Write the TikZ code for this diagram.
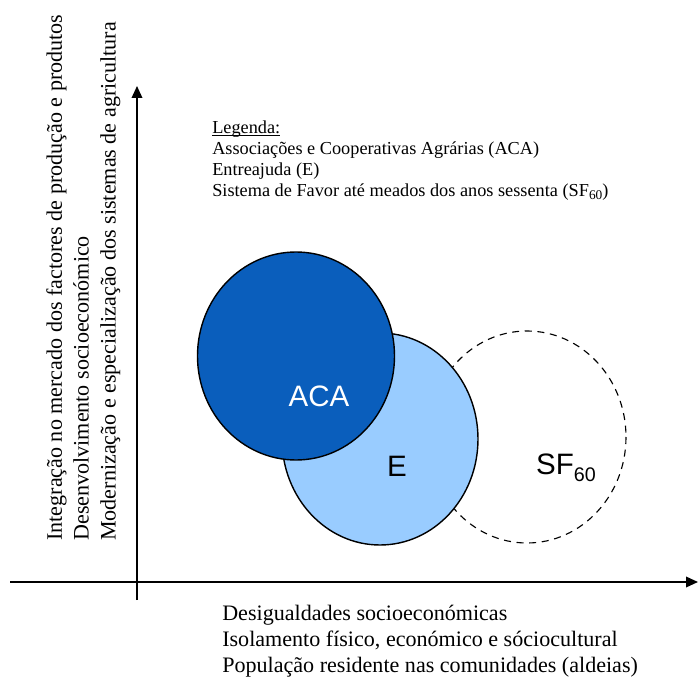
\documentclass[tikz,border=0pt]{standalone}
\usepackage{fontspec}
\setmainfont{Liberation Serif}
\setsansfont{Liberation Sans}
\usetikzlibrary{arrows.meta}
\definecolor{azulescuro}{RGB}{10,94,188}
\definecolor{azulclaro}{RGB}{153,204,255}
\tikzset{
	eixo/.style={line width=1.2pt,-{Triangle[length=8.5pt,width=7.5pt]}},
	circulo/.style={line width=1pt,draw=black},
	rotulo/.style={font=\sffamily\fontsize{21}{24}\selectfont,inner sep=0pt},
	texto/.style={align=left,inner sep=0pt}
}
\newcommand{\sublinha}[1]{\underline{\smash{#1}}}
\begin{document}
\begin{tikzpicture}[x=0.025cm,y=-0.025cm]
		\useasboundingbox (0,0) rectangle (698,682);
		%Eixos
		\coordinate (fundo) at (137,600);
		\coordinate (topo) at (137,86);
		\coordinate (esq) at (10,582);
		\coordinate (dir) at (698,582);
		\draw [eixo] (fundo)--(topo);
		\draw [eixo] (esq)--(dir);
		%Circulos
		\draw [line width=0.8pt, dash pattern=on 5pt off 4pt] (527,437) ellipse (99 and 106);
		\draw [circulo, fill=azulclaro] (380,439) ellipse (98 and 106);
		\draw [circulo, fill=azulescuro] (296,356) ellipse (98.5 and 104);
		
		\node [rotulo, text=white] (aca) at (319,396) {ACA};
		\node [rotulo] (e) at (397,466) {E};
		\node [rotulo] (sf) at (566,468) {SF\raisebox{-0.45ex}{\fontsize{14}{16}\selectfont 60}};
		%Legenda
		\node [texto, anchor=north west, font=\fontsize{13}{15}\selectfont] (legenda) at (212,133)
			{\sublinha{Legenda:}\\
			Associações e Cooperativas Agrárias (ACA)\\
			Entreajuda (E)\\
			Sistema de Favor até meados dos anos sessenta (SF\raisebox{-0.4ex}{\fontsize{9.5}{10}\selectfont 60})};
		%Textos dos eixos
		\node [texto, anchor=north west, font=\fontsize{15.7}{18.6}\selectfont] (eixox) at (222,605)
			{Desigualdades socioeconómicas\\
			Isolamento físico, económico e sóciocultural\\
			População residente nas comunidades (aldeias)};
		\node [texto, anchor=north west, rotate=90, font=\fontsize{15.7}{19.1}\selectfont] (eixoy) at (46,541)
			{Integração no mercado dos factores de produção e produtos\\
			Desenvolvimento socioeconómico\\
			Modernização e especialização dos sistemas de agricultura};
	\end{tikzpicture}
\end{document}
